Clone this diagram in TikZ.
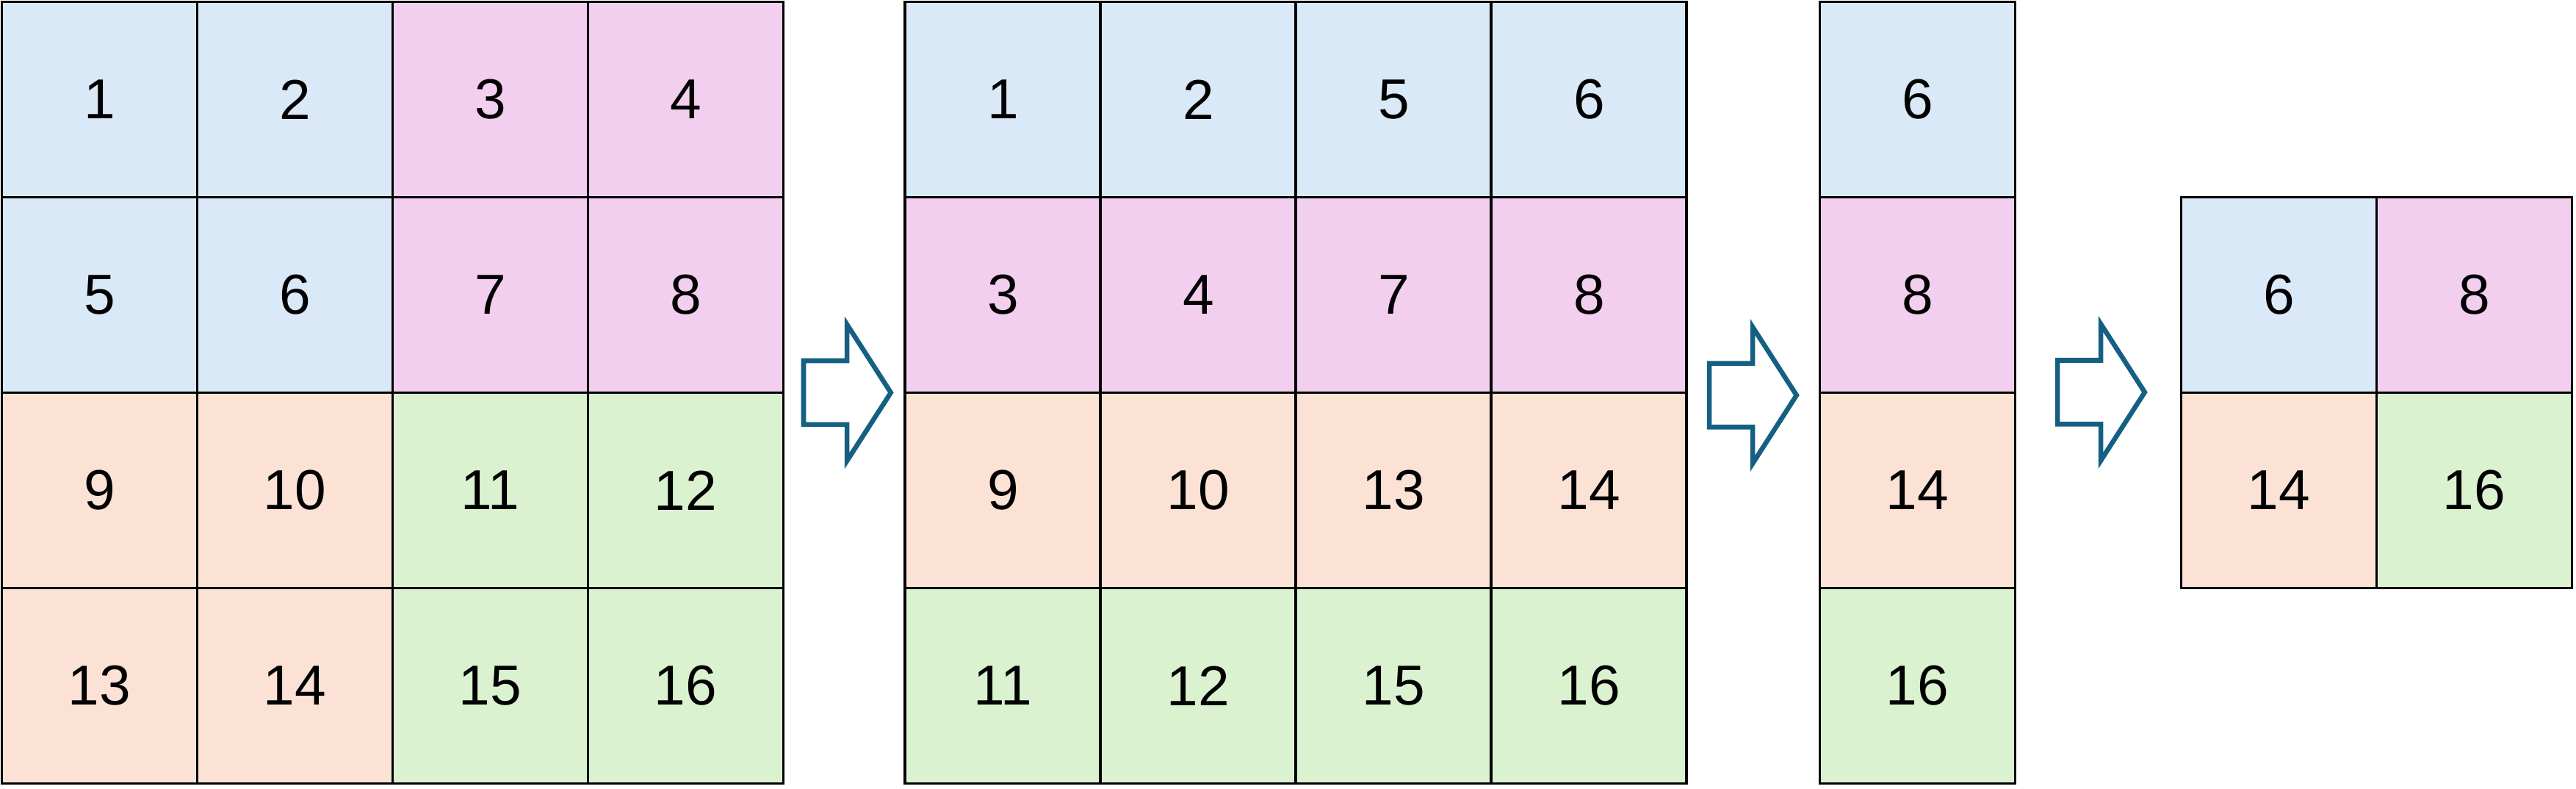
\documentclass[tikz,border=0pt]{standalone}
\usepackage{fontspec}
\setmainfont{Liberation Sans}
\usetikzlibrary{positioning}
\definecolor{cellblue}{HTML}{DAE9F7}
\definecolor{cellpink}{HTML}{F2CEEF}
\definecolor{cellorange}{HTML}{FBE2D5}
\definecolor{cellgreen}{HTML}{DAF2D0}
\definecolor{arrowblue}{HTML}{156082}
\tikzset{
    cell/.style={draw=black, line width=0.6pt, minimum size=1.5cm, inner sep=0pt,
        outer sep=0pt, anchor=north west, font=\fontsize{12.3}{14}\selectfont},
    B/.style={cell, fill=cellblue},
    P/.style={cell, fill=cellpink},
    O/.style={cell, fill=cellorange},
    G/.style={cell, fill=cellgreen},
    fatarrow/.style={draw=arrowblue, line width=1.05pt, fill=white, line join=miter}
}
% hollow block arrow, #1 = left end of the tail (middle)
\newcommand{\blockarrow}[1]{
    \draw[fatarrow, shift={(#1)}] (0,0.245) -- (0.333,0.245) -- (0.333,0.524)
        -- (0.67,0) -- (0.333,-0.524) -- (0.333,-0.245) -- (0,-0.245) -- cycle;
}
\begin{document}
\begin{tikzpicture}
    \useasboundingbox (-0.014,0.014) rectangle (19.762,-6.037);
    % first grid
    \foreach \n/\c [count=\i from 0] in {1/B,2/B,3/P,4/P,5/B,6/B,7/P,8/P,
            9/O,10/O,11/G,12/G,13/O,14/O,15/G,16/G}
        \node[\c] (a\n) at ({1.5*mod(\i,4)},{-1.5*int(\i/4)}) {\n};
    % second grid
    \foreach \n/\c [count=\i from 0] in {1/B,2/B,5/B,6/B,3/P,4/P,7/P,8/P,
            9/O,10/O,13/O,14/O,11/G,12/G,15/G,16/G}
        \node[\c] (b\n) at ({6.935+1.5*mod(\i,4)},{-1.5*int(\i/4)}) {\n};
    % column
    \foreach \n/\c [count=\i from 0] in {6/B,8/P,14/O,16/G}
        \node[\c] (c\n) at (13.956,{-1.5*\i}) {\n};
    % last grid
    \foreach \n/\c [count=\i from 0] in {6/B,8/P,14/O,16/G}
        \node[\c] (d\n) at ({16.731+1.5*mod(\i,2)},{-1.5-1.5*int(\i/2)}) {\n};
    % arrows
    \blockarrow{6.155,-3.0}
    \blockarrow{13.108,-3.02}
    \blockarrow{15.781,-2.997}
\end{tikzpicture}
\end{document}
